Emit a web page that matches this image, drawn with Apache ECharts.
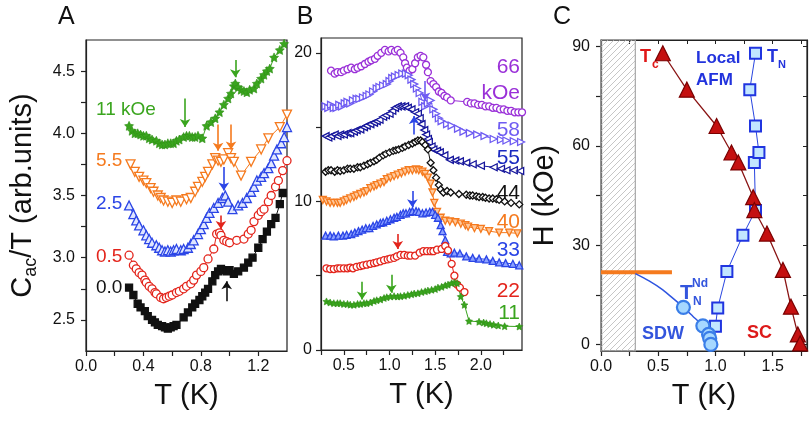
<!DOCTYPE html>
<html>
<head>
<meta charset="utf-8">
<script src="https://cdn.jsdelivr.net/npm/echarts@6/dist/echarts.min.js"></script>
<style>
html, body { margin: 0; padding: 0; background: #fff; }
#chart { width: 810px; height: 422px; }
</style>
</head>
<body>
<div id="chart"></div>
<script>
// ---- panel A : Cac/T vs T, offset curves (kOe) ----
const a00 = [[0.30,2.76],[0.33,2.70],[0.36,2.63],[0.38,2.60],[0.41,2.57],[0.43,2.53],[0.46,2.50],[0.48,2.48],[0.50,2.46],[0.53,2.45],[0.55,2.44],[0.57,2.43],[0.59,2.44],[0.61,2.45],[0.63,2.46],[0.68,2.52],[0.71,2.56],[0.74,2.60],[0.76,2.63],[0.79,2.66],[0.81,2.69],[0.83,2.72],[0.85,2.75],[0.88,2.81],[0.90,2.86],[0.92,2.89],[0.94,2.91],[0.96,2.90],[0.98,2.89],[1.00,2.90],[1.03,2.87],[1.06,2.89],[1.10,2.92],[1.13,2.96],[1.16,3.00],[1.20,3.08],[1.23,3.15],[1.26,3.21],[1.29,3.27],[1.32,3.32],[1.35,3.43],[1.37,3.52]];
const a05 = [[0.30,3.02],[0.33,2.94],[0.35,2.91],[0.37,2.88],[0.39,2.86],[0.41,2.82],[0.42,2.80],[0.44,2.77],[0.46,2.75],[0.48,2.72],[0.49,2.71],[0.52,2.68],[0.54,2.67],[0.56,2.68],[0.58,2.69],[0.60,2.70],[0.63,2.72],[0.65,2.73],[0.68,2.75],[0.70,2.77],[0.73,2.79],[0.75,2.82],[0.77,2.86],[0.80,2.89],[0.82,2.92],[0.85,2.99],[0.89,3.07],[0.91,3.19],[0.93,3.20],[0.94,3.18],[0.96,3.14],[0.98,3.13],[1.00,3.12],[1.05,3.14],[1.10,3.15],[1.13,3.19],[1.15,3.22],[1.17,3.29],[1.20,3.34],[1.22,3.37],[1.24,3.39],[1.27,3.45],[1.29,3.50],[1.32,3.57],[1.34,3.62],[1.37,3.70],[1.40,3.78]];
const a25 = [[0.30,3.42],[0.33,3.35],[0.35,3.30],[0.37,3.26],[0.40,3.22],[0.42,3.18],[0.44,3.15],[0.46,3.12],[0.49,3.10],[0.51,3.08],[0.53,3.06],[0.55,3.05],[0.57,3.06],[0.59,3.05],[0.61,3.06],[0.63,3.07],[0.66,3.06],[0.68,3.07],[0.71,3.08],[0.73,3.11],[0.75,3.14],[0.78,3.19],[0.80,3.23],[0.82,3.27],[0.84,3.32],[0.86,3.36],[0.89,3.40],[0.92,3.44],[0.95,3.48],[0.97,3.50],[0.99,3.45],[1.02,3.39],[1.06,3.42],[1.09,3.44],[1.12,3.48],[1.15,3.53],[1.17,3.57],[1.19,3.62],[1.22,3.65],[1.24,3.68],[1.27,3.72],[1.29,3.76],[1.31,3.82],[1.33,3.87],[1.36,3.92],[1.38,3.97],[1.40,4.05]];
const a55 = [[0.31,3.75],[0.34,3.69],[0.37,3.65],[0.40,3.62],[0.42,3.60],[0.45,3.56],[0.47,3.53],[0.50,3.50],[0.52,3.48],[0.54,3.46],[0.57,3.45],[0.60,3.44],[0.63,3.46],[0.66,3.45],[0.70,3.47],[0.73,3.48],[0.76,3.53],[0.78,3.57],[0.81,3.61],[0.83,3.65],[0.85,3.69],[0.88,3.75],[0.90,3.80],[0.92,3.78],[0.94,3.77],[0.96,3.79],[0.99,3.84],[1.01,3.80],[1.03,3.77],[1.08,3.66],[1.15,3.77],[1.22,3.87],[1.27,3.96],[1.35,4.05],[1.40,4.15]];
const a110 = [[0.30,4.06],[0.32,4.02],[0.34,4.00],[0.36,4.00],[0.38,3.99],[0.40,3.98],[0.42,3.98],[0.44,3.96],[0.46,3.95],[0.49,3.94],[0.51,3.92],[0.53,3.91],[0.55,3.91],[0.57,3.92],[0.59,3.92],[0.61,3.92],[0.63,3.94],[0.65,3.95],[0.68,3.97],[0.70,3.98],[0.72,3.98],[0.74,3.97],[0.76,3.97],[0.78,3.98],[0.81,3.96],[0.84,4.06],[0.87,4.09],[0.90,4.12],[0.93,4.17],[0.96,4.23],[0.99,4.28],[1.01,4.32],[1.03,4.38],[1.04,4.40],[1.06,4.37],[1.08,4.35],[1.10,4.34],[1.12,4.33],[1.14,4.35],[1.17,4.36],[1.19,4.40],[1.22,4.44],[1.24,4.47],[1.26,4.50],[1.28,4.52],[1.31,4.61],[1.35,4.67],[1.38,4.72]];
// arrows: [T, from, to]
const arrA110 = [[0.69,4.28,4.05],[1.04,4.59,4.45]];
const arrA55 = [[0.92,4.07,3.86],[1.01,4.07,3.87]];
const arrA25 = [[0.96,3.73,3.54]];
const arrA05 = [[0.94,3.34,3.23]];
const arrA00 = [[0.98,2.65,2.81]];

// ---- panel B : offset curves at higher fields (kOe) ----
const b66 = [[0.36,18.8],[0.40,18.6],[0.43,18.7],[0.47,18.7],[0.50,18.8],[0.54,18.9],[0.58,19.0],[0.62,18.9],[0.65,19.0],[0.69,19.1],[0.73,19.25],[0.77,19.4],[0.80,19.5],[0.84,19.6],[0.87,19.8],[0.91,20.0],[0.95,20.2],[0.99,20.1],[1.02,20.2],[1.06,20.1],[1.09,20.2],[1.12,20.0],[1.15,19.7],[1.17,19.3],[1.19,19.0],[1.22,18.8],[1.25,18.9],[1.28,19.3],[1.31,19.7],[1.34,19.8],[1.37,19.7],[1.40,19.2],[1.42,18.7],[1.45,18.1],[1.48,17.9],[1.51,17.7],[1.54,17.4],[1.57,17.3],[1.60,17.1],[1.63,17.0],[1.67,16.8],[1.85,16.7],[1.89,16.6],[1.93,16.6],[1.97,16.5],[2.01,16.5],[2.05,16.4],[2.09,16.4],[2.13,16.3],[2.17,16.3],[2.21,16.2],[2.25,16.2],[2.29,16.1],[2.33,16.1],[2.37,16.0],[2.41,16.0],[2.45,16.0]];
const b58 = [[0.30,16.4],[0.33,16.3],[0.36,16.5],[0.39,16.3],[0.42,16.3],[0.45,16.5],[0.48,16.4],[0.51,16.6],[0.54,16.7],[0.57,16.6],[0.60,16.8],[0.64,16.9],[0.67,16.9],[0.71,17.0],[0.75,17.1],[0.78,17.2],[0.82,17.4],[0.86,17.6],[0.89,17.7],[0.93,17.8],[0.97,17.9],[1.00,18.1],[1.03,18.3],[1.06,18.4],[1.10,18.5],[1.14,18.6],[1.18,18.6],[1.21,18.5],[1.24,18.2],[1.27,17.9],[1.30,17.6],[1.33,17.3],[1.36,16.7],[1.39,16.4],[1.42,16.6],[1.45,16.8],[1.48,16.2],[1.51,15.9],[1.54,15.6],[1.57,15.4],[1.63,15.2],[1.68,15.1],[1.75,14.9],[1.81,14.7],[1.88,14.6],[1.96,14.5],[2.04,14.4],[2.14,14.2],[2.22,14.15],[2.28,14.1],[2.36,14.05],[2.44,14.0]];
const b55 = [[0.30,14.4],[0.33,14.3],[0.36,14.4],[0.40,14.5],[0.43,14.4],[0.46,14.5],[0.50,14.5],[0.54,14.6],[0.57,14.6],[0.61,14.7],[0.64,14.8],[0.68,14.85],[0.72,15.0],[0.75,15.1],[0.79,15.2],[0.83,15.3],[0.86,15.4],[0.89,15.5],[0.93,15.7],[0.96,15.8],[1.00,15.9],[1.03,16.1],[1.06,16.3],[1.09,16.4],[1.13,16.4],[1.17,16.4],[1.20,16.3],[1.24,16.2],[1.28,16.0],[1.31,15.9],[1.33,15.6],[1.35,15.2],[1.38,14.8],[1.40,14.5],[1.42,14.2],[1.43,14.0],[1.46,13.7],[1.48,13.5],[1.52,13.4],[1.55,13.3],[1.60,13.1],[1.66,12.8],[1.72,12.75],[1.77,12.7],[1.84,12.6],[1.91,12.5],[2.00,12.4],[2.14,12.3],[2.22,12.2],[2.28,12.1],[2.36,12.1],[2.43,12.05]];
const b44 = [[0.30,12.0],[0.33,12.1],[0.36,12.1],[0.40,12.0],[0.43,12.1],[0.46,12.05],[0.50,12.1],[0.54,12.2],[0.57,12.2],[0.61,12.2],[0.65,12.3],[0.68,12.3],[0.72,12.4],[0.76,12.5],[0.79,12.6],[0.83,12.7],[0.86,12.8],[0.89,12.95],[0.93,13.1],[0.96,13.2],[1.00,13.3],[1.04,13.4],[1.07,13.45],[1.10,13.5],[1.14,13.6],[1.17,13.7],[1.21,13.8],[1.25,13.9],[1.28,14.0],[1.31,14.1],[1.34,14.1],[1.36,14.0],[1.39,13.8],[1.42,13.5],[1.45,12.6],[1.48,12.1],[1.51,11.6],[1.54,11.1],[1.56,10.8],[1.59,10.6],[1.63,10.7],[1.67,10.6],[1.76,10.5],[1.84,10.45],[1.88,10.4],[1.91,10.4],[1.95,10.35],[1.98,10.3],[2.02,10.3],[2.05,10.25],[2.09,10.2],[2.13,10.2],[2.17,10.15],[2.20,10.1],[2.26,10.0],[2.33,9.9],[2.42,9.8]];
const b40 = [[0.27,10.1],[0.31,10.0],[0.35,9.9],[0.39,9.9],[0.43,9.9],[0.46,9.9],[0.50,10.0],[0.53,10.1],[0.57,10.2],[0.61,10.3],[0.64,10.4],[0.68,10.5],[0.72,10.6],[0.75,10.7],[0.79,10.9],[0.83,11.0],[0.86,11.1],[0.90,11.2],[0.94,11.3],[0.97,11.5],[1.01,11.6],[1.05,11.7],[1.09,11.8],[1.13,11.9],[1.17,12.0],[1.21,12.1],[1.25,12.1],[1.29,12.15],[1.32,12.1],[1.36,12.0],[1.39,11.85],[1.42,11.6],[1.45,11.2],[1.47,10.6],[1.49,9.9],[1.52,9.3],[1.56,8.9],[1.61,8.7],[1.66,8.65],[1.72,8.6],[1.78,8.5],[1.83,8.4],[1.86,8.3],[1.93,8.2],[2.00,8.15],[2.09,8.0],[2.20,7.9],[2.31,7.9],[2.40,7.85]];
const b33 = [[0.30,7.7],[0.35,7.7],[0.39,7.65],[0.44,7.7],[0.49,7.7],[0.53,7.75],[0.58,7.8],[0.62,7.9],[0.66,8.0],[0.70,8.1],[0.74,8.2],[0.78,8.2],[0.82,8.35],[0.86,8.45],[0.90,8.55],[0.93,8.6],[0.97,8.7],[1.01,8.8],[1.05,8.9],[1.08,8.96],[1.12,9.1],[1.15,9.2],[1.18,9.2],[1.22,9.3],[1.25,9.35],[1.29,9.35],[1.32,9.3],[1.36,9.2],[1.40,9.25],[1.44,9.3],[1.47,9.3],[1.50,9.1],[1.53,8.9],[1.56,8.4],[1.58,8.0],[1.61,7.4],[1.63,6.6],[1.67,6.5],[1.71,6.55],[1.77,6.5],[1.84,6.3],[1.91,6.2],[1.98,6.15],[2.06,6.1],[2.13,6.0],[2.20,5.9],[2.27,5.85],[2.35,5.8],[2.42,5.7]];
const b22 = [[0.31,5.5],[0.35,5.45],[0.39,5.45],[0.43,5.5],[0.46,5.5],[0.50,5.5],[0.54,5.5],[0.57,5.55],[0.60,5.5],[0.64,5.6],[0.68,5.65],[0.71,5.7],[0.75,5.74],[0.79,5.8],[0.83,5.85],[0.86,5.9],[0.90,5.97],[0.94,6.05],[0.98,6.1],[1.01,6.15],[1.05,6.2],[1.08,6.3],[1.12,6.4],[1.16,6.4],[1.20,6.35],[1.23,6.35],[1.28,6.35],[1.33,6.55],[1.37,6.65],[1.41,6.65],[1.45,6.65],[1.48,6.65],[1.52,6.75],[1.57,6.8],[1.61,7.0],[1.64,6.7],[1.68,5.8],[1.71,5.0],[1.74,4.4],[1.77,4.2],[1.82,3.9]];
const b11 = [[0.31,3.27],[0.35,3.2],[0.39,3.15],[0.43,3.15],[0.46,3.15],[0.50,3.1],[0.54,3.1],[0.57,3.05],[0.61,3.04],[0.65,3.1],[0.68,3.1],[0.72,3.15],[0.75,3.15],[0.79,3.2],[0.83,3.3],[0.86,3.35],[0.90,3.4],[0.94,3.5],[0.97,3.55],[1.01,3.6],[1.05,3.62],[1.09,3.6],[1.12,3.62],[1.16,3.65],[1.20,3.7],[1.24,3.75],[1.27,3.8],[1.31,3.82],[1.35,3.9],[1.39,3.95],[1.42,4.0],[1.46,4.05],[1.50,4.1],[1.53,4.2],[1.57,4.25],[1.61,4.35],[1.64,4.4],[1.68,4.5],[1.71,4.55],[1.74,4.5],[1.78,3.6],[1.82,3.04],[1.87,1.95],[1.98,1.9],[2.03,1.85],[2.06,1.8],[2.10,1.75],[2.14,1.7],[2.19,1.65],[2.26,1.6],[2.42,1.58]];
const arrB66 = [[1.36,21.1,20.05]];
const arrB58 = [[1.39,18.1,16.8]];
const arrB55 = [[1.27,14.5,15.75]];
const arrB33 = [[1.25,10.7,9.6]];
const arrB22 = [[1.09,7.8,6.8]];
const arrB11 = [[0.70,4.6,3.4],[1.02,5.06,3.85]];

// ---- panel C : H-T phase diagram ----
const cTc = [[0.54,88],[0.75,77],[1.01,66],[1.14,58],[1.20,55],[1.33,44.5],[1.34,40.6],[1.45,33.5],[1.59,22.5],[1.66,11.4],[1.72,3],[1.74,0.3]];
const cTN = [[1.00,5.5],[1.02,11],[1.10,22],[1.24,33],[1.35,40.5],[1.34,55],[1.38,58],[1.35,66],[1.30,77],[1.35,88]];
const cNd = [[0.72,11.2],[0.89,5.6],[0.94,3.0],[0.95,1.8],[0.96,0]];
const cSdw = [[0.30,21.4],[0.42,19.2],[0.54,16.5],[0.64,13.6],[0.72,11.2],[0.80,8.6],[0.89,5.6],[0.94,3.0],[0.96,0]];
const cHline = [[0,21.8],[0.62,21.8]];
const cHatch = [0, 0.3];

// tick / label values
const ticksAx = [0,0.2,0.4,0.6,0.8,1.0,1.2];
const labsAx = [0,0.4,0.8,1.2];
const ticksAy = [2.5,2.75,3,3.25,3.5,3.75,4,4.25,4.5];
const labsAy = [2.5,3,3.5,4,4.5];
const ticksBx = [0.25,0.5,0.75,1,1.25,1.5,1.75,2,2.25];
const labsBx = [0.5,1,1.5,2];
const ticksBy = [0,5,10,15,20];
const labsBy = [0,10,20];
const ticksCx = [0,0.25,0.5,0.75,1,1.25,1.5,1.75];
const labsCx = [0,0.5,1,1.5];
const ticksCy = [0,15,30,45,60,75,90];
const labsCy = [0,30,60,90];

const FONT = 'Liberation Sans, Arial, sans-serif';
const GREEN = '#3aa51e', ORANGE = '#f57a1e', BLUE = '#2b45e6', RED = '#e3241b', BLACK = '#111';
const PURPLE = '#9a30d8', LAV = '#6f5cf2', NAVY = '#16169c';
const STAR = 'path://M0,-10L2.9,-4L9.5,-3.1L4.8,1.5L5.9,8.1L0,5L-5.9,8.1L-4.8,1.5L-9.5,-3.1L-2.9,-4Z';

const hatch = document.createElement('canvas');
hatch.width = 6; hatch.height = 6;
const hc = hatch.getContext('2d');
hc.strokeStyle = '#b8b8b8'; hc.lineWidth = 0.8;
hc.beginPath();
hc.moveTo(0, 6); hc.lineTo(6, 0);
hc.moveTo(-1, 1); hc.lineTo(1, -1);
hc.moveTo(5, 7); hc.lineTo(7, 5);
hc.stroke();

function fmt1(v) { return v.toFixed(1); }
function fmt0(v) { return String(Math.round(v)); }

function axis(g, min, max, ticks, labels, f, extra) {
    return Object.assign({
        type: 'value', gridIndex: g, min: min, max: max,
        axisLine: {show: true, onZero: false, lineStyle: {color: '#222', width: 1.2}},
        axisTick: {show: true, customValues: ticks, length: 5, lineStyle: {color: '#222', width: 1.2}},
        axisLabel: {customValues: labels, formatter: f, color: '#111', fontSize: 16, fontFamily: FONT, margin: 8},
        splitLine: {show: false},
        nameTextStyle: {fontSize: 29, fontFamily: FONT, color: '#111'}
    }, extra || {});
}

function arrows(list, color) {
    return {
        silent: true, animation: false, symbol: ['none', 'arrow'], symbolSize: 8,
        lineStyle: {color: color, width: 1.6, type: 'solid'},
        label: {show: false}, emphasis: {disabled: true},
        data: list.map(a => [{coord: [a[0], a[1]]}, {coord: [a[0], a[2]]}])
    };
}

function curve(g, data, o) {
    const s = {
        type: 'line', xAxisIndex: g, yAxisIndex: g, data: data,
        symbol: o.symbol, symbolSize: o.size, symbolRotate: o.rotate || 0,
        showAllSymbol: true, smooth: o.smooth || false,
        lineStyle: {color: o.line || o.color, width: o.width || 1},
        itemStyle: {color: o.fill || '#fff', borderColor: o.color, borderWidth: o.bw || 1.3},
        emphasis: {disabled: true},
        z: o.z || 2
    };
    if (o.arrows) s.markLine = arrows(o.arrows, o.arrowColor || o.color);
    return s;
}

function txt(x, y, text, size, color, weight, align) {
    return {
        type: 'text', x: x, y: y, z: 50,
        style: {text: text, fontSize: size, fill: color, fontFamily: FONT,
                fontWeight: weight || 'normal', align: align || 'left', verticalAlign: 'middle'}
    };
}

const chart = echarts.init(document.getElementById('chart'));

const option = {
    animation: false,
    backgroundColor: '#fff',
    grid: [
        {left: 86, top: 40, width: 201, height: 311, show: true, borderColor: '#222', borderWidth: 1.2},
        {left: 321, top: 38, width: 201, height: 312, show: true, borderColor: '#222', borderWidth: 1.2},
        {left: 601, top: 40, width: 206, height: 311, show: true, borderColor: '#222', borderWidth: 1.2}
    ],
    xAxis: [
        axis(0, 0, 1.4, ticksAx, labsAx, fmt1, {name: 'T (K)', nameLocation: 'middle', nameGap: 30}),
        axis(1, 0.25, 2.45, ticksBx, labsBx, fmt1, {name: 'T (K)', nameLocation: 'middle', nameGap: 30}),
        axis(2, 0, 1.8, ticksCx, labsCx, fmt1, {name: 'T (K)', nameLocation: 'middle', nameGap: 30}),
        axis(2, 0, 1.8, ticksCx, [], fmt1, {position: 'top',
            axisTick: {show: true, inside: true, customValues: ticksCx, length: 4, lineStyle: {color: '#222'}},
            axisLabel: {show: false}})
    ],
    yAxis: [
        axis(0, 2.25, 4.75, ticksAy, labsAy, fmt1, {
            name: '{m|C}{s|ac}{m|/T (arb.units)}', nameLocation: 'middle', nameGap: 46,
            nameTextStyle: {fontFamily: FONT, color: '#111', rich: {
                m: {fontSize: 29, fontFamily: FONT, color: '#111', verticalAlign: 'top'},
                s: {fontSize: 18, fontFamily: FONT, color: '#111', verticalAlign: 'top', padding: [14, 0, 0, 0]}
            }},
            axisLabel: {customValues: labsAy, formatter: fmt1, color: '#111', fontSize: 16, fontFamily: FONT, margin: 11}
        }),
        axis(1, 0, 21, ticksBy, labsBy, fmt0, {
            axisLabel: {customValues: labsBy, formatter: fmt0, color: '#111', fontSize: 16, fontFamily: FONT, margin: 9}
        }),
        axis(2, -2, 92, ticksCy, labsCy, fmt0, {
            name: 'H (kOe)', nameLocation: 'middle', nameGap: 42,
            axisLabel: {customValues: labsCy, formatter: fmt0, color: '#111', fontSize: 16, fontFamily: FONT, margin: 11}
        }),
        axis(2, -2, 92, ticksCy, [], fmt0, {position: 'right',
            axisTick: {show: true, inside: true, customValues: ticksCy, length: 4, lineStyle: {color: '#222'}},
            axisLabel: {show: false}})
    ],
    series: [
        curve(0, a110, {symbol: STAR, size: 9, color: '#2f8f16', fill: GREEN, line: GREEN, bw: 0.6, arrows: arrA110, arrowColor: GREEN}),
        curve(0, a55, {symbol: 'triangle', rotate: 180, size: 9, color: ORANGE, arrows: arrA55}),
        curve(0, a25, {symbol: 'triangle', size: 9, color: BLUE, fill: '#dfe6ff', arrows: arrA25}),
        curve(0, a05, {symbol: 'circle', size: 8, color: RED, arrows: arrA05}),
        curve(0, a00, {symbol: 'rect', size: 7, color: BLACK, fill: BLACK, arrows: arrA00}),

        curve(1, b66, {symbol: 'circle', size: 7, color: PURPLE, arrows: arrB66}),
        curve(1, b58, {symbol: 'triangle', rotate: -90, size: 7, color: LAV, arrows: arrB58}),
        curve(1, b55, {symbol: 'triangle', rotate: 90, size: 7, color: NAVY, arrows: arrB55, arrowColor: BLUE}),
        curve(1, b44, {symbol: 'diamond', size: 7, color: BLACK}),
        curve(1, b40, {symbol: 'triangle', rotate: 180, size: 7, color: ORANGE, fill: '#ffc89a'}),
        curve(1, b33, {symbol: 'triangle', size: 7, color: BLUE, fill: '#8aa0ff', arrows: arrB33}),
        curve(1, b22, {symbol: 'circle', size: 7, color: RED, arrows: arrB22}),
        curve(1, b11, {symbol: STAR, size: 7, color: '#2f8f16', fill: GREEN, line: GREEN, bw: 0.6, arrows: arrB11, arrowColor: GREEN}),

        {
            type: 'line', xAxisIndex: 2, yAxisIndex: 2, data: cHline, symbol: 'none',
            lineStyle: {color: ORANGE, width: 4}, z: 3,
            markArea: {
                silent: true,
                itemStyle: {color: {image: hatch, repeat: 'repeat'}, borderColor: '#a8a8a8', borderWidth: 1.2},
                data: [[{xAxis: cHatch[0]}, {xAxis: cHatch[1]}]]
            }
        },
        {type: 'line', xAxisIndex: 2, yAxisIndex: 2, data: cSdw, symbol: 'none', smooth: 0.3,
         lineStyle: {color: '#2f55e0', width: 1.5}, z: 3},
        curve(2, cNd, {symbol: 'circle', size: 13, color: '#3a7ee8', fill: '#a6d8ff', line: 'rgba(0,0,0,0)', bw: 2.2, z: 5}),
        curve(2, cTN, {symbol: 'rect', size: 11, color: '#2035e0', fill: '#c2e6ff', line: '#2845e0', bw: 2, z: 4}),
        curve(2, cTc, {symbol: 'triangle', size: 15, color: '#7a0000', fill: '#c41010', line: '#8a1515', width: 1.3, bw: 1.2, z: 4})
    ],
    graphic: [
        txt(58, 17, 'A', 25, '#111'),
        txt(305, 17, 'B', 25, '#111', 'normal', 'center'),
        txt(562, 17, 'C', 25, '#111', 'normal', 'center'),

        txt(96, 110, '11 kOe', 19, GREEN),
        txt(96, 161, '5.5', 19, ORANGE),
        txt(96, 204, '2.5', 19, BLUE),
        txt(96, 257, '0.5', 19, RED),
        txt(96, 288, '0.0', 19, BLACK),

        txt(520, 67, '66', 21, PURPLE, 'normal', 'right'),
        txt(520, 93, 'kOe', 21, PURPLE, 'normal', 'right'),
        txt(520, 130, '58', 21, LAV, 'normal', 'right'),
        txt(520, 158, '55', 21, '#1a2ac0', 'normal', 'right'),
        txt(520, 193, '44', 21, BLACK, 'normal', 'right'),
        txt(520, 222, '40', 21, ORANGE, 'normal', 'right'),
        txt(520, 250, '33', 21, BLUE, 'normal', 'right'),
        txt(520, 291, '22', 21, RED, 'normal', 'right'),
        txt(520, 313, '11', 21, GREEN, 'normal', 'right'),

        txt(640, 57, 'T', 18, '#e01818', 'bold'),
        txt(652, 65, 'c', 12, '#e01818', 'bold'),
        txt(696, 58, 'Local', 17, '#2233dd', 'bold'),
        txt(696, 80, 'AFM', 17, '#2233dd', 'bold'),
        txt(767, 57, 'T', 18, '#2233dd', 'bold'),
        txt(778, 65, 'N', 11, '#2233dd', 'bold'),
        txt(642, 334, 'SDW', 18, '#3355dd', 'bold'),
        txt(747, 333, 'SC', 18, '#dd1a1a', 'bold'),
        txt(680, 293, 'T', 21, '#3355dd', 'bold'),
        txt(692, 284, 'Nd', 12, '#3355dd', 'bold'),
        txt(693, 302, 'N', 12, '#3355dd', 'bold')
    ]
};

chart.setOption(option);
</script>
</body>
</html>
